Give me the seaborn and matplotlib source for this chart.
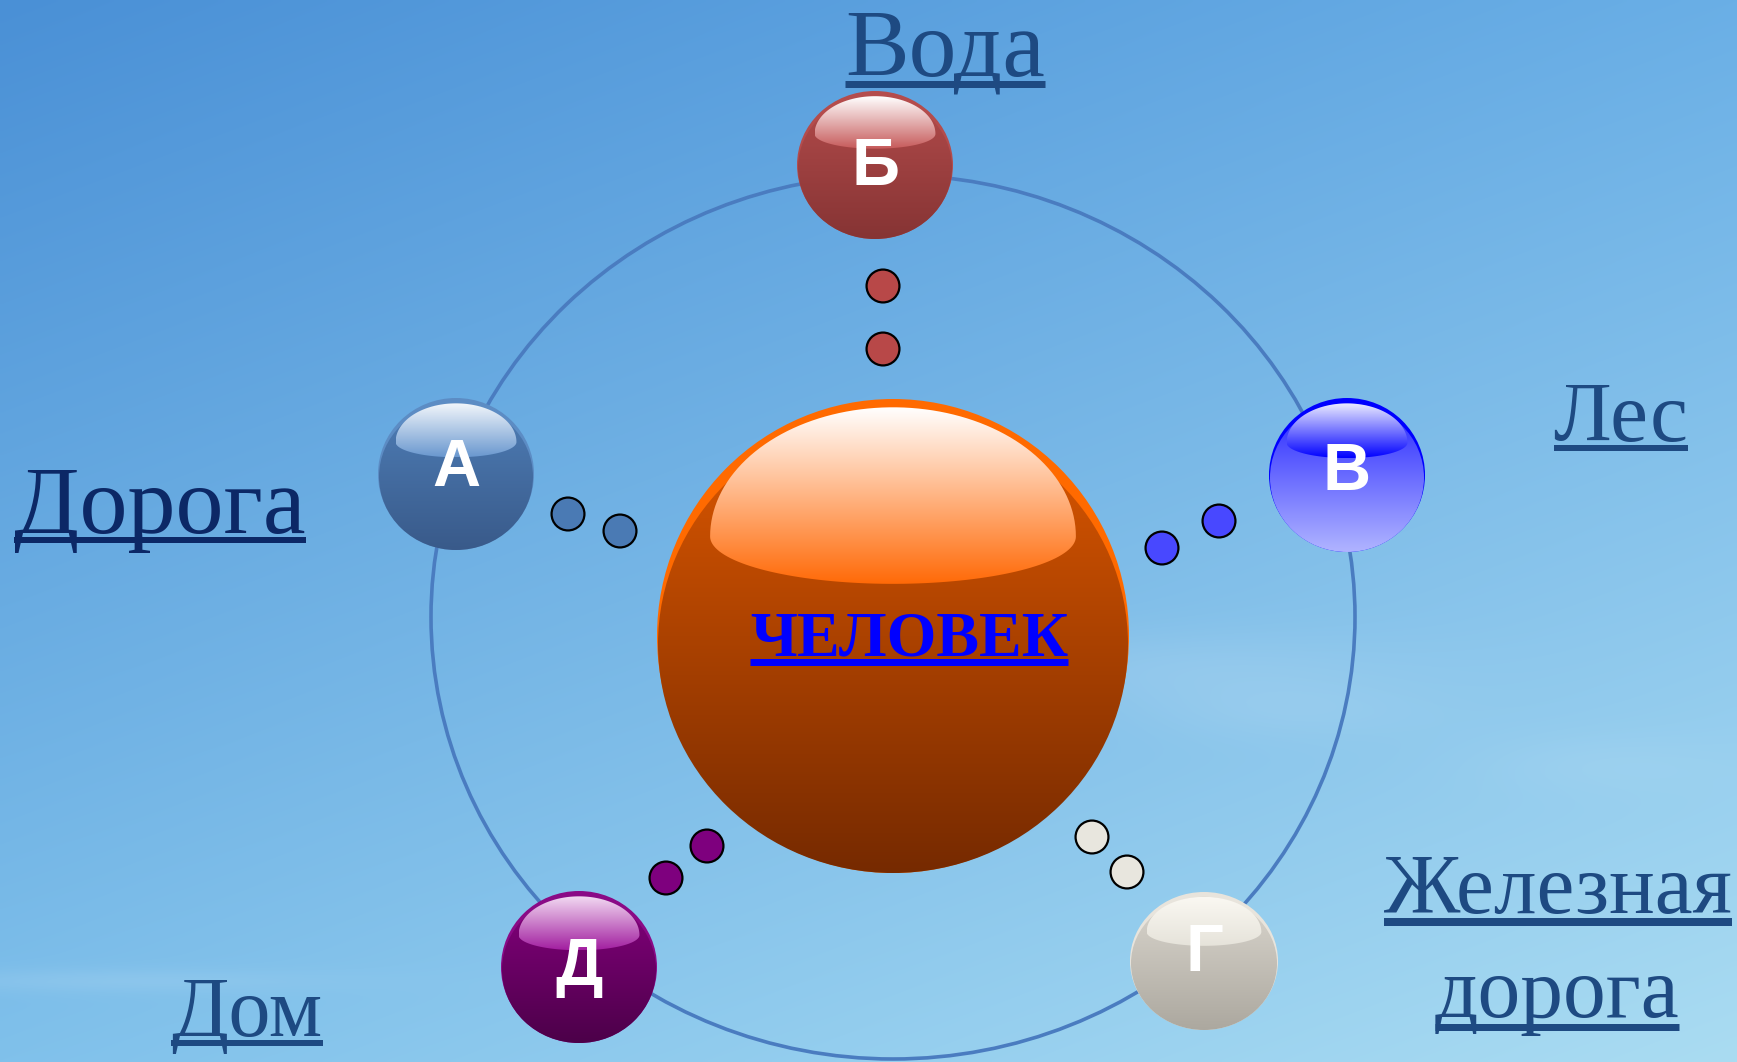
import numpy as np
import pandas as pd
import matplotlib
matplotlib.use("Agg")
import matplotlib.pyplot as plt
import seaborn as sns
from matplotlib.patches import Ellipse, PathPatch
from matplotlib.path import Path
from matplotlib.colors import to_rgb

# DATA
center_word = "ЧЕЛОВЕК"
node_letters = ["Б", "А", "В", "Г", "Д"]
node_labels = ["Вода", "Дорога", "Лес", "Железная", "дорога", "Дом"]
dots_per_node = 2

# LAYOUT (pixel coordinates, y downwards)
W, H = 1737, 1062
node_pos = {"Б": (875, 165, 78, 74), "А": (456, 474, 78, 76), "В": (1347, 475, 78, 77),
            "Г": (1204, 961, 74, 69), "Д": (579, 967, 78, 76)}
letter_drop = {"Б": 20, "А": 12, "В": 15, "Г": 10, "Д": 18}
node_style = {  # base top, base bottom, highlight top, highlight bottom, rim
    "Б": ("#b44c4c", "#863434", "#ffffff", "#c65a5a", "#b44c4c"),
    "А": ("#4f7fb8", "#395a8a", "#f2f6fb", "#6a98cf", "#5c8cc4"),
    "В": ("#2020ff", "#b0b4ff", "#ececff", "#0000ff", "#0000ff"),
    "Г": ("#dcd8d0", "#aca89f", "#faf8f2", "#e6e3da", "#e8e4dc"),
    "Д": ("#86007f", "#4c0049", "#f2daf2", "#a21fa0", "#8a0a86"),
}
dot_pos = {"Б": [(883, 286), (883, 349)], "А": [(568, 514), (620, 531)],
           "В": [(1162, 548), (1219, 521)], "Г": [(1092, 837), (1127, 872)],
           "Д": [(707, 846), (666, 878)]}
dot_colors = {"Б": "#b84848", "А": "#4a7ab4", "В": "#4848ff", "Г": "#e8e6de", "Д": "#7e007e"}

fig = plt.figure(figsize=(W / 100, H / 100), dpi=100)
ax = fig.add_axes([0, 0, 1, 1])

# sky background
yy, xx = np.mgrid[0:1:300j, 0:1:480j]
tl, tr, bl, br = [np.array(to_rgb(c)) for c in ("#4a90d6", "#6aafe6", "#80c1eb", "#aadcf2")]
bg = ((1 - yy)[..., None] * ((1 - xx)[..., None] * tl + xx[..., None] * tr)
      + yy[..., None] * ((1 - xx)[..., None] * bl + xx[..., None] * br))
for cx_, cy_, sx, sy, a in [(0.68, 0.63, 0.09, 0.025, 0.10), (0.74, 0.67, 0.06, 0.02, 0.08),
                            (0.06, 0.925, 0.09, 0.008, 0.10), (0.92, 0.72, 0.05, 0.02, 0.06)]:
    g = a * np.exp(-((xx - cx_) ** 2 / (2 * sx ** 2) + (yy - cy_) ** 2 / (2 * sy ** 2)))
    bg = bg * (1 - g[..., None]) + g[..., None]
ax.imshow(bg, extent=[0, W, H, 0], aspect="auto", interpolation="bilinear", zorder=0)

# orbit ring
ax.add_patch(Ellipse((893, 617), 924, 884, fill=False, ec="#4a7cc0", lw=2.6, zorder=1))


def vgrad(top, bot, n=256):
    t = np.linspace(0, 1, n)[:, None, None]
    return (1 - t) * np.array(to_rgb(top)) + t * np.array(to_rgb(bot))


def dome(cx, cy, rx, ry, top_at):
    # glossy cap: tall half-ellipse on top, flat half-ellipse below
    yc = cy - 0.42 * ry
    a, b_up, b_low = 0.775 * rx, yc - (cy - top_at * ry), 0.2 * ry
    th = np.linspace(0, np.pi, 80)
    upper = np.column_stack([cx + a * np.cos(th), yc - b_up * np.sin(th)])
    lower = np.column_stack([cx - a * np.cos(th), yc + b_low * np.sin(th)])
    pts = np.vstack([upper, lower, upper[:1]])
    return Path(pts, closed=True), yc - b_up, yc + b_low, a


def sphere(cx, cy, rx, ry, top, bot, hl_top, hl_bot, rim, z=2, top_at=0.93):
    ax.add_patch(Ellipse((cx, cy), 2 * rx, 2 * ry, fc=rim, ec="none", zorder=z))
    inner = Ellipse((cx, cy + ry * 0.035), 2 * rx - 2, 2 * ry * 0.965, fc="none", ec="none")
    ax.add_patch(inner)
    im = ax.imshow(vgrad(top, bot), extent=[cx - rx, cx + rx, cy + ry, cy - ry],
                   aspect="auto", interpolation="bilinear", zorder=z + 0.1)
    im.set_clip_path(inner)
    path, y0, y1, a = dome(cx, cy, rx, ry, top_at)
    hl = PathPatch(path, fc="none", ec="none")
    ax.add_patch(hl)
    im2 = ax.imshow(vgrad(hl_top, hl_bot), extent=[cx - a, cx + a, y1, y0],
                    aspect="auto", interpolation="bilinear", zorder=z + 0.2)
    im2.set_clip_path(hl)


# central sphere
sphere(893, 636, 236, 237, "#e25a00", "#762a00", "#ffffff", "#ff6a08", "#ff6a00", top_at=0.965)

# outer spheres with letters
for letter in node_letters:
    cx, cy, rx, ry = node_pos[letter]
    sphere(cx, cy, rx, ry, *node_style[letter], z=3)
    ax.text(cx, cy + letter_drop[letter], letter, ha="center", va="baseline", color="white",
            fontsize=48, fontweight="bold", family="Liberation Sans", zorder=6)

# small connecting dots
rows = []
for letter in node_letters:
    for x, y in dot_pos[letter][:dots_per_node]:
        rows.append({"node": letter, "x": x, "y": y})
dots = pd.DataFrame(rows)
sns.scatterplot(data=dots, x="x", y="y", hue="node", palette=dot_colors, s=560,
                edgecolor="black", linewidth=1.6, legend=False, ax=ax, zorder=5)

ax.set_xlim(0, W)
ax.set_ylim(H, 0)
ax.axis("off")

renderer = fig.canvas.get_renderer()


def label(txt, cx, base, width, color, ul_off, ul_w, bold=False):
    t = ax.text(cx, base, txt, ha="center", va="baseline", family="Liberation Serif",
                fontsize=60, color=color, fontweight="bold" if bold else "normal", zorder=7)
    bb = t.get_window_extent(renderer)
    t.set_fontsize(60 * width / bb.width)
    bb = t.get_window_extent(renderer)
    (x0, _), (x1, _) = ax.transData.inverted().transform([[bb.x0, 0], [bb.x1, 0]])
    ax.plot([x0, x1], [base + ul_off] * 2, color=color, lw=ul_w * 0.72,
            solid_capstyle="butt", zorder=7)


navy = "#1e4a82"
label(node_labels[0], 945, 75, 200, navy, 9, 7)
label(node_labels[1], 160, 533, 292, "#0c2866", 7, 6)
label(node_labels[2], 1621, 441, 135, navy, 7, 6)
label(node_labels[3], 1558, 913, 348, navy, 9, 8)
label(node_labels[4], 1557, 1017, 245, navy, 10, 7)
label(node_labels[5], 247, 1036, 151, navy, 7, 6)
label(center_word, 909, 655, 318, "#0000ff", 7, 7, bold=True)

fig.savefig("out.png", dpi=100)
